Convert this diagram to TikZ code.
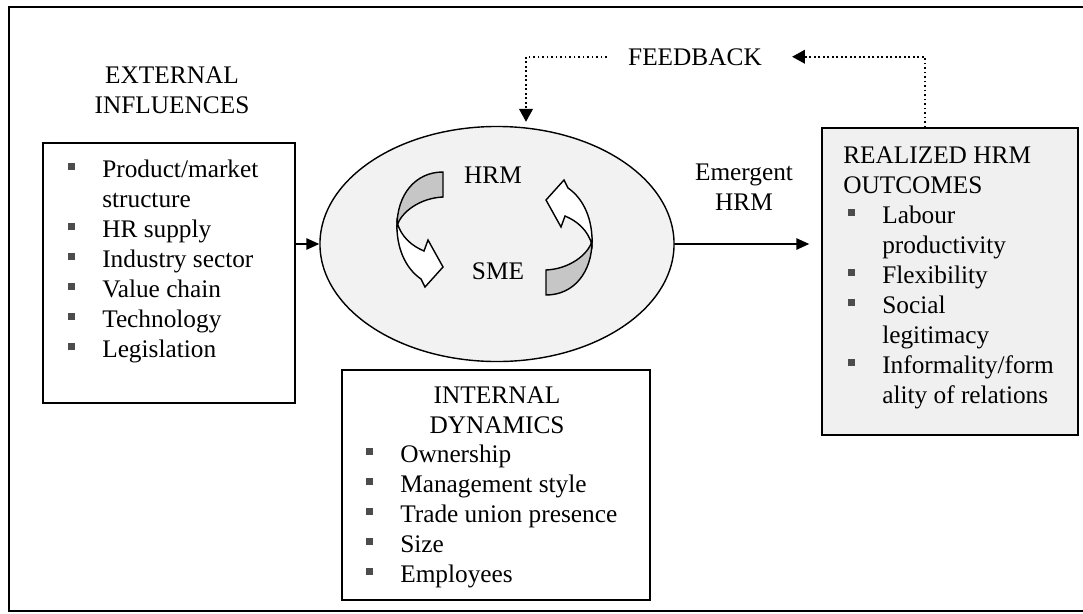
\documentclass[tikz,border=0pt]{standalone}
\usepackage{fontspec}
\setmainfont{Liberation Serif}
\usepackage{tikz}
\usetikzlibrary{positioning}
\usetikzlibrary{shapes.geometric}
\usetikzlibrary{arrows.meta}
\definecolor{bulletgray}{gray}{0.3}
\tikzset{
  every node/.style={
    align=center,
    inner sep=0pt,
    font=\fontsize{18}{21.34}\selectfont,
  },
  box/.style={draw, rectangle, line width=1pt},
  arr/.style={-{Triangle[length=0.32cm,width=0.28cm]}, line width=1.3pt},
  fbline/.style={dotted, line width=1.2pt, -{Triangle[length=0.32cm,width=0.34cm]}},
  list/.style={anchor=base west},
  twistback/.style={draw, line width=1pt, fill=gray!45},
  twistfront/.style={draw, line width=1pt, fill=white},
}
\newcommand{\sqb}{\makebox[0.85cm][l]{\textcolor{bulletgray}{\rule[0.17cm]{0.17cm}{0.17cm}}}}
\newcommand{\cnt}{\hspace*{0.85cm}}
\newcommand{\twistarrow}{%
  \draw[twistback] (443,172) .. controls (415,172) and (397,195) .. (397,226)
    .. controls (401,212) and (420,198) .. (443,197) -- cycle;
  \draw[twistfront] (397,222) .. controls (401,237) and (412,246) .. (424,251)
    -- (428,240) -- (443,267) -- (425,287) -- (421,279)
    .. controls (405,268) and (396,247) .. (397,222) -- cycle;
}

\begin{document}
\begin{tikzpicture}[x=0.025cm, y=-0.025cm]
  \useasboundingbox (0,0) rectangle (1083,613);
  \draw[line width=1pt] (1100,7) -- (9,7) -- (9,611) -- (1100,611);

  \node[box, minimum width=6.3cm, minimum height=6.5cm] (ext) at (169,273) {};
  \node[anchor=base] (exttitle) at (172,83)
    {\begin{tabular}[t]{@{}c@{}}EXTERNAL\\INFLUENCES\end{tabular}};
  \node[list] (extlist) at (68,177) {\begin{tabular}[t]{@{}l@{}}
      \sqb Product/market\\
      \cnt structure\\
      \sqb HR supply\\
      \sqb Industry sector\\
      \sqb Value chain\\
      \sqb Technology\\
      \sqb Legislation
    \end{tabular}};

  \node[ellipse, draw, line width=1pt, fill=gray!10,
    minimum width=8.85cm, minimum height=5.875cm] (core) at (497,244) {};
  \twistarrow
  \begin{scope}[shift={(5,0)}, rotate around={180:(492,233.5)}]
    \twistarrow
  \end{scope}
  \node[anchor=base] (hrm) at (493,183) {HRM};
  \node[anchor=base] (sme) at (498,279) {SME};

  \node[box, minimum width=7.7cm, minimum height=5.75cm] (int) at (496,485) {};
  \node[anchor=base] (inttitle) at (497,403)
    {\begin{tabular}[t]{@{}c@{}}INTERNAL\\DYNAMICS\end{tabular}};
  \node[list] (intlist) at (366,462) {\begin{tabular}[t]{@{}l@{}}
      \sqb Ownership\\
      \sqb Management style\\
      \sqb Trade union presence\\
      \sqb Size\\
      \sqb Employees
    \end{tabular}};

  \node[box, fill=gray!12, minimum width=6.4cm, minimum height=7.675cm] (out) at (950,281.5) {};
  \node[list] (outtitle) at (843,163)
    {\begin{tabular}[t]{@{}l@{}}REALIZED HRM\\OUTCOMES\end{tabular}};
  \node[list] (outlist) at (848,223) {\begin{tabular}[t]{@{}l@{}}
      \sqb Labour\\
      \cnt productivity\\
      \sqb Flexibility\\
      \sqb Social\\
      \cnt legitimacy\\
      \sqb Informality/form\\
      \cnt ality of relations
    \end{tabular}};

  \node[anchor=base] (emlabel) at (744,180)
    {\begin{tabular}[t]{@{}c@{}}Emergent\\HRM\end{tabular}};
  \node[anchor=base, inner xsep=0.525cm] (fb) at (695,65) {FEEDBACK};
  \coordinate (fbl) at (526,0);
  \coordinate (fbr) at (925,0);

  \draw[arr] (ext.east |- core.west) -- (core.west);
  \draw[arr, shorten >=0.3cm] (core.east) -- (out.west |- core.east);
  \draw[fbline, shorten >=0.1cm] (fb.west) -- (fbl |- fb.west) -- (fbl |- core.north);
  \draw[fbline, shorten >=0.225cm] (out.north -| fbr) -- (fbr |- fb.east) -- (fb.east);
\end{tikzpicture}
\end{document}
